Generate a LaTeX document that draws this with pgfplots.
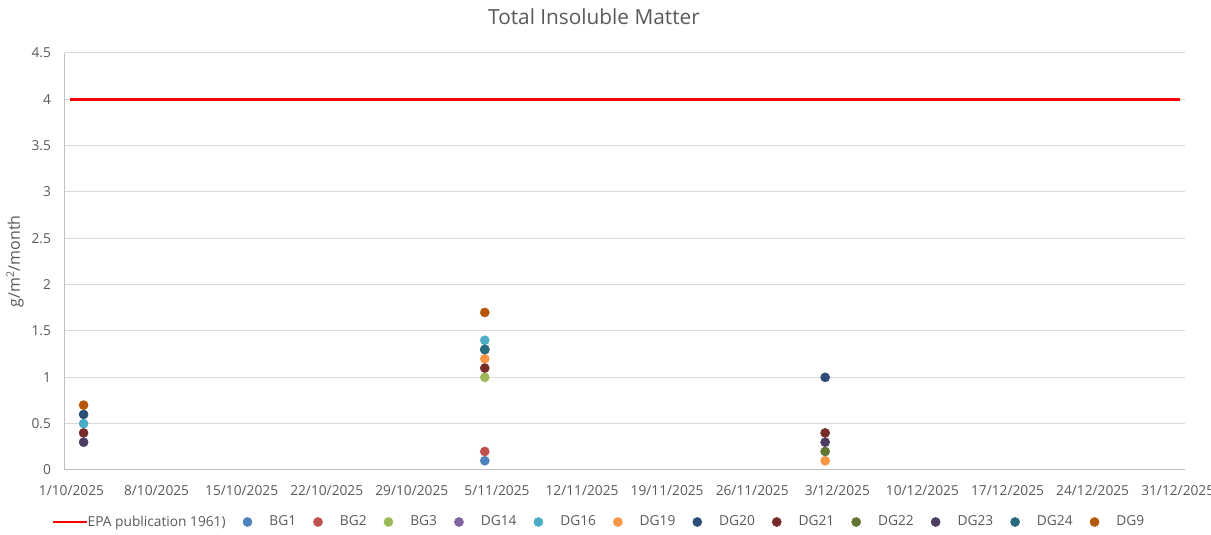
\documentclass[border=0pt]{standalone}
\usepackage{pgfplots}
\pgfplotsset{compat=1.18}
\usepackage{fontspec}
\setmainfont{Open Sans}
\definecolor{txt}{HTML}{595959}
\definecolor{gridc}{HTML}{D9D9D9}
\definecolor{axc}{HTML}{BFBFBF}
\definecolor{cBGa}{HTML}{4F81BD}
\definecolor{cBGb}{HTML}{C0504D}
\definecolor{cBGc}{HTML}{9BBB59}
\definecolor{cDGn}{HTML}{8064A2}
\definecolor{cDGp}{HTML}{4BACC6}
\definecolor{cDGs}{HTML}{F79646}
\definecolor{cDGt}{HTML}{2C4D75}
\definecolor{cDGu}{HTML}{772C2A}
\definecolor{cDGv}{HTML}{5F7530}
\definecolor{cDGw}{HTML}{4D3B62}
\definecolor{cDGx}{HTML}{276A7C}
\definecolor{cDGy}{HTML}{B65708}
\pgfplotsset{
  dot/.style={only marks, mark=*, mark size=3.4pt, color=#1, mark options={solid, fill=#1, draw=#1},
    legend image code/.code={\draw[mark repeat=2,mark phase=2,##1] plot coordinates {(0pt,0pt)(4pt,0pt)(8pt,0pt)};}},
  epaline/.style={red, line width=1.9pt,
    legend image code/.code={\path[draw=none,fill=none] (0pt,-2pt) rectangle (1pt,2pt); \draw[##1,overlay] (-12pt,0pt) -- (13.5pt,0pt);}},
}
\begin{document}
\begin{tikzpicture}
\useasboundingbox (0,0) rectangle (908.25pt,401.25pt);
\begin{axis}[
  at={(48.75pt,48.75pt)}, anchor=south west,
  scale only axis, width=840pt, height=312.75pt,
  xmin=-0.53, xmax=91.6, ymin=0, ymax=4.5,
  xtick={0,7,14,21,28,35,42,49,56,63,70,77,84,91},
  xticklabels={1/10/2025,8/10/2025,15/10/2025,22/10/2025,29/10/2025,5/11/2025,12/11/2025,19/11/2025,26/11/2025,3/12/2025,10/12/2025,17/12/2025,24/12/2025,31/12/2025},
  ytick={0,0.5,1,1.5,2,2.5,3,3.5,4,4.5},
  yticklabels={0,0.5,1,1.5,2,2.5,3,3.5,4,4.5},
  ymajorgrids, grid style={color=gridc, line width=0.75pt},
  axis x line*=bottom, axis y line*=left,
  axis line style={color=axc, line width=0.75pt, -},
  major tick length=0pt,
  tick label style={font=\fontsize{10.3}{12}\selectfont, color=txt},
  xticklabel style={yshift=-7.8pt},
  yticklabel style={xshift=-7pt},
  /pgf/number format/assume math mode=true,
  title={Total Insoluble Matter},
  title style={at={(axis description cs:0.4723,1.067)}, anchor=center, font=\fontsize{15.6}{18}\selectfont, color=txt},
  ylabel={g/m\textsuperscript{2}/month},
  every axis y label/.style={at={(axis description cs:-0.0446,0.5)}, rotate=90, anchor=center, font=\fontsize{12}{14}\selectfont, color=txt},
  legend columns=-1,
  legend style={at={(axis description cs:0.0036,-0.1247)}, anchor=west, draw=none, fill=none,
    inner sep=0pt, outer sep=0pt, font=\fontsize{10.3}{12}\selectfont, text=txt,
    /tikz/every odd column/.style={column sep=11pt},
    /tikz/every even column/.style={column sep=11pt}},
  clip=false,
]
\addplot[epaline] coordinates {(-0.1,4) (91.2,4)};
\addlegendentry{EPA publication 1961)}
\addplot[dot=cBGa] coordinates {(34,0.1)};
\addlegendentry{BG1}
\addplot[dot=cBGb] coordinates {(34,0.2)};
\addlegendentry{BG2}
\addplot[dot=cBGc] coordinates {(34,1.0)};
\addlegendentry{BG3}
\addlegendimage{dot=cDGn}
\addlegendentry{DG14}
\addplot[dot=cDGp] coordinates {(1,0.5) (34,1.4)};
\addlegendentry{DG16}
\addplot[dot=cDGs] coordinates {(34,1.2) (62,0.1)};
\addlegendentry{DG19}
\addplot[dot=cDGt] coordinates {(1,0.6) (34,1.3) (62,1.0)};
\addlegendentry{DG20}
\addplot[dot=cDGu] coordinates {(1,0.4) (34,1.1) (62,0.4)};
\addlegendentry{DG21}
\addplot[dot=cDGv] coordinates {(62,0.2)};
\addlegendentry{DG22}
\addplot[dot=cDGw] coordinates {(1,0.3) (62,0.3)};
\addlegendentry{DG23}
\addplot[dot=cDGx] coordinates {(34,1.3)};
\addlegendentry{DG24}
\addplot[dot=cDGy] coordinates {(1,0.7) (34,1.7)};
\addlegendentry{DG9}
\end{axis}
\end{tikzpicture}
\end{document}
